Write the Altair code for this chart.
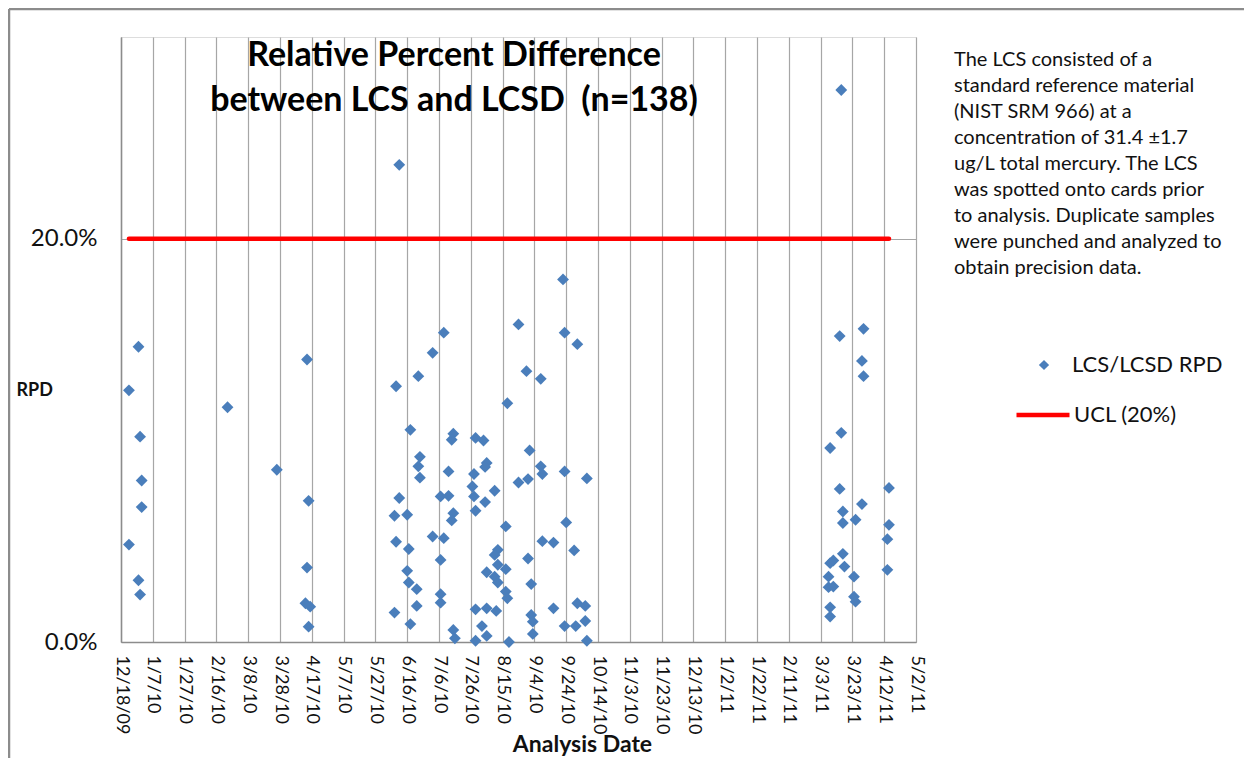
import altair as alt
import pandas as pd

# ---------------- data ----------------
DATES = [
    # Dec 2009
    "2009-12-23", "2009-12-29", "2009-12-30", "2009-12-31", "2009-12-31",
    "2009-12-23", "2009-12-29", "2009-12-30",
    # Feb / Mar 2010
    "2010-02-23", "2010-03-26",
    # Apr 2010
    "2010-04-14", "2010-04-15", "2010-04-14", "2010-04-13", "2010-04-16", "2010-04-15",
    # Jun - Oct 2010
    "2010-06-11", "2010-06-09", "2010-06-23", "2010-07-02", "2010-07-09",
    "2010-06-18", "2010-06-24", "2010-06-23", "2010-06-24", "2010-06-11",
    "2010-06-08", "2010-06-16", "2010-06-09", "2010-06-17", "2010-06-16",
    "2010-06-17", "2010-06-22", "2010-06-22", "2010-06-08", "2010-06-18",
    "2010-07-15", "2010-07-14", "2010-07-12", "2010-07-07", "2010-07-12",
    "2010-07-15", "2010-07-14", "2010-07-02", "2010-07-09", "2010-07-07",
    "2010-07-07", "2010-07-07", "2010-07-15", "2010-07-16", "2010-07-29",
    "2010-08-03", "2010-08-05", "2010-08-04", "2010-07-28", "2010-07-27",
    "2010-07-28", "2010-08-10", "2010-08-04", "2010-07-29", "2010-08-17",
    "2010-08-18", "2010-08-25", "2010-08-31", "2010-09-01", "2010-08-30",
    "2010-09-08", "2010-09-08", "2010-09-09", "2010-09-23", "2010-10-01",
    "2010-09-23", "2010-10-07", "2010-09-24", "2010-09-09", "2010-09-16",
    "2010-09-29", "2010-08-31", "2010-08-12", "2010-08-10", "2010-08-05",
    "2010-08-12", "2010-08-17", "2010-08-10", "2010-08-12", "2010-08-17",
    "2010-08-18", "2010-07-29", "2010-08-05", "2010-08-11", "2010-08-02",
    "2010-08-05", "2010-07-29", "2010-08-19", "2010-09-02", "2010-09-02",
    "2010-09-03", "2010-09-03", "2010-09-16", "2010-09-23", "2010-09-30",
    "2010-10-01", "2010-10-06", "2010-10-06", "2010-10-07", "2010-08-25",
    "2010-09-22",
    # Mar / Apr 2011
    "2011-03-16", "2011-03-15", "2011-03-30", "2011-03-29", "2011-03-30",
    "2011-03-16", "2011-03-09", "2011-03-15", "2011-03-29", "2011-03-17",
    "2011-03-17", "2011-03-25", "2011-03-17", "2011-03-09", "2011-03-11",
    "2011-03-18", "2011-03-08", "2011-03-24", "2011-03-08", "2011-03-11",
    "2011-03-24", "2011-03-25", "2011-03-09", "2011-03-09", "2011-04-15",
    "2011-04-15", "2011-04-14", "2011-04-14",
]

RPD_PCT = [
    12.48, 14.64, 10.18, 8.01, 6.69,
    4.83, 3.06, 2.35,
    11.64, 8.54,
    14.01, 7.00, 3.69, 1.92, 1.75, 0.76,
    23.66, 12.68, 13.18, 14.34, 15.34,
    10.52, 9.18, 8.71, 8.15, 7.14,
    6.26, 6.31, 4.97, 4.61, 3.53,
    2.95, 2.62, 1.79, 1.46, 0.89,
    10.33, 10.03, 8.46, 7.22, 7.25,
    6.39, 6.03, 5.23, 5.15, 4.07,
    2.37, 1.95, 0.60, 0.18, 10.12,
    9.99, 8.88, 8.68, 8.33, 7.71,
    7.22, 7.50, 6.94, 6.51, 5.73,
    11.84, 7.91, 8.08, 9.50, 13.43,
    13.05, 8.71, 8.33, 15.34, 14.77,
    8.46, 8.11, 5.93, 5.00, 4.93,
    4.54, 4.14, 4.57, 4.32, 3.46,
    3.83, 3.61, 3.24, 2.95, 2.50,
    2.17, 1.62, 1.67, 1.54, 0.79,
    0.30, 0.06, 0.00, 2.87, 1.34,
    1.01, 0.40, 1.67, 0.79, 0.79,
    1.92, 1.79, 1.04, 0.06, 15.75,
    17.98,
    27.37, 15.17, 15.53, 13.94, 13.18,
    10.37, 9.62, 7.59, 6.84, 6.47,
    5.90, 6.06, 4.37, 3.91, 4.04,
    3.74, 3.24, 3.24, 2.72, 2.75,
    2.25, 2.00, 1.72, 1.26, 7.64,
    5.81, 5.10, 3.58,
]

UCL_DATES = ["2009-12-23", "2011-04-15"]
UCL_PCT = [20.0, 20.0]

TICK_DATES = [
    "2009-12-18", "2010-01-07", "2010-01-27", "2010-02-16", "2010-03-08",
    "2010-03-28", "2010-04-17", "2010-05-07", "2010-05-27", "2010-06-16",
    "2010-07-06", "2010-07-26", "2010-08-15", "2010-09-04", "2010-09-24",
    "2010-10-14", "2010-11-03", "2010-11-23", "2010-12-13", "2011-01-02",
    "2011-01-22", "2011-02-11", "2011-03-03", "2011-03-23", "2011-04-12",
    "2011-05-02",
]
Y_TICKS = [0.0, 0.2]
Y_MAX = 0.30

SERIES_POINTS = "LCS/LCSD RPD"
SERIES_UCL = "UCL (20%)"

TITLE_LINES = ["Relative Percent Difference", "between LCS and LCSD \u00a0(n=138)"]
NOTE_LINES = [
    "The LCS consisted of a",
    "standard reference material",
    "(NIST SRM 966) at a",
    "concentration of 31.4 \u00b11.7",
    "ug/L total mercury. The LCS",
    "was spotted onto cards prior",
    "to analysis. Duplicate samples",
    "were punched and analyzed to",
    "obtain precision data.",
]

FONT = "Lato"
BLUE = "#4A7EBB"
RED = "#FF0000"
GRID = "#A6A6A6"
TEXT = "#111111"


def dt(s):
    y, m, d = (int(v) for v in s.split("-"))
    return alt.DateTime(year=y, month=m, date=d, utc=True)


pts = pd.DataFrame({
    "date": DATES,
    "rpd": [v / 100 for v in RPD_PCT],
    "series": SERIES_POINTS,
})
ucl = pd.DataFrame({
    "date": UCL_DATES,
    "rpd": [v / 100 for v in UCL_PCT],
    "series": SERIES_UCL,
})
one = pd.DataFrame({"k": [0]})

x_scale = alt.Scale(type="utc", domain=[dt(TICK_DATES[0]), dt(TICK_DATES[-1])], nice=False)
y_scale = alt.Scale(domain=[0, Y_MAX], nice=False, zero=True)

x_axis = alt.Axis(
    values=[dt(s) for s in TICK_DATES],
    tickCount=len(TICK_DATES) + 4,
    format="%-m/%-d/%y",
    labelAngle=90,
    labelAlign="left",
    labelBaseline="middle",
    labelPadding=13,
    labelFontSize=18,
    labelFont=FONT,
    labelColor=TEXT,
    labelOverlap=False,
    labelFlush=False,
    ticks=False,
    grid=True,
    gridColor=GRID,
    gridWidth=1.2,
    domainColor="#8C8C8C",
    domainWidth=1.5,
    title="Analysis Date",
    titleFont=FONT,
    titleFontSize=23,
    titleFontWeight="bold",
    titleColor=TEXT,
    titleX=461,
    titleY=102,
    titleAlign="center",
    titleBaseline="middle",
)

y_axis = alt.Axis(
    values=Y_TICKS,
    tickCount=5,
    format=".1%",
    labelPadding=24,
    labelFontSize=24,
    labelFont=FONT,
    labelColor=TEXT,
    ticks=False,
    grid=True,
    gridColor=GRID,
    gridWidth=1.2,
    domainColor="#8C8C8C",
    domainWidth=1.5,
    title="RPD",
    titleAngle=0,
    titleFont=FONT,
    titleFontSize=18,
    titleFontWeight="bold",
    titleColor=TEXT,
    titleX=-105,
    titleY=353,
    titleAlign="left",
    titleBaseline="middle",
)

points = alt.Chart(pts).mark_point(
    filled=True, color=BLUE, size=140, opacity=1
).encode(
    x=alt.X("date:T", scale=x_scale, axis=x_axis),
    y=alt.Y("rpd:Q", scale=y_scale, axis=y_axis),
    shape=alt.Shape(
        "series:N",
        scale=alt.Scale(domain=[SERIES_POINTS], range=["diamond"]),
        legend=alt.Legend(
            orient="none", legendX=912, legendY=317, title=None,
            symbolFillColor=BLUE, symbolStrokeColor=BLUE, symbolSize=105,
            symbolStrokeWidth=0, labelOffset=17, padding=0,
            labelFont=FONT, labelFontSize=22, labelColor=TEXT,
        ),
    ),
)

ucl_line = alt.Chart(ucl).mark_line(strokeWidth=4.5, strokeCap="round").encode(
    x="date:T",
    y="rpd:Q",
    color=alt.Color(
        "series:N",
        scale=alt.Scale(domain=[SERIES_UCL], range=[RED]),
        legend=alt.Legend(
            orient="none", legendX=893, legendY=349, title=None,
            symbolType="stroke", symbolSize=2809, symbolStrokeWidth=4.5,
            labelOffset=2, padding=0,
            labelFont=FONT, labelFontSize=22, labelColor=TEXT,
        ),
    ),
)

title = alt.Chart(one).mark_text(
    text=TITLE_LINES, font=FONT, fontSize=34, fontWeight="bold", color="#000000",
    align="center", baseline="alphabetic", lineHeight=45,
).encode(x=alt.value(333), y=alt.value(29))

note = alt.Chart(one).mark_text(
    text=NOTE_LINES, font=FONT, fontSize=20, color=TEXT,
    align="left", baseline="alphabetic", lineHeight=26,
).encode(x=alt.value(833), y=alt.value(29))

frame_left = alt.Chart(one).mark_rule(color="#8C8C8C", strokeWidth=2.5).encode(
    x=alt.value(-112), y=alt.value(-28), y2=alt.value(721)
)
frame_top = alt.Chart(one).mark_rule(color="#8C8C8C", strokeWidth=2.5).encode(
    x=alt.value(-112), x2=alt.value(1123), y=alt.value(-28)
)

chart = alt.layer(
    frame_left, frame_top, ucl_line, points, title, note
).resolve_legend(
    shape="independent", color="independent"
).properties(
    width=795,
    height=605,
    padding={"left": 113, "top": 29, "right": 328, "bottom": 116},
    autosize=alt.AutoSizeParams(type="none"),
).configure_view(
    stroke=None
).configure(
    background="white"
)

chart.save("out.html", embed_options={"renderer": "svg", "actions": False})
